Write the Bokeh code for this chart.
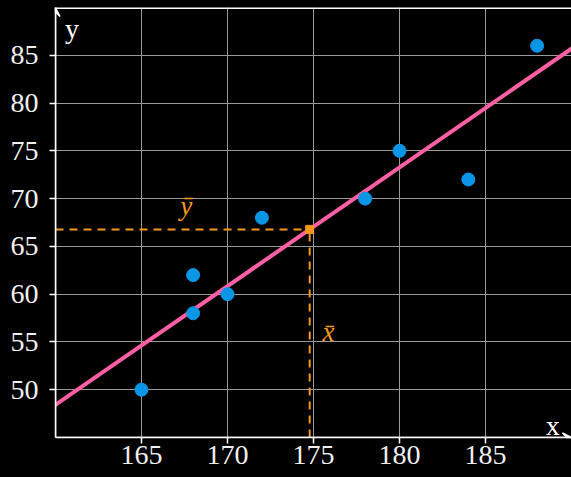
import numpy as np
from bokeh.plotting import figure
from bokeh.models import (Range1d, FixedTicker, Arrow, VeeHead, Span)
from bokeh.core.properties import value
from bokeh.embed import file_html
from bokeh.resources import INLINE

# data
heights = [165, 168, 168, 170, 172, 178, 180, 184, 188]
weights = [50, 58, 62, 60, 68, 70, 75, 72, 86]
x_ticks = [165, 170, 175, 180, 185]
y_ticks = [50, 55, 60, 65, 70, 75, 80, 85]

x_lo, x_hi = 160, 190
y_lo, y_hi = 45, 90

mean_x = float(np.mean(heights))
mean_y = float(np.mean(weights))
slope, intercept = np.polyfit(heights, weights, 1)

SERIF = "Liberation Serif"
ORANGE = "#f7971e"
PINK = "#ff5fa5"
BLUE = "#0a96e6"

p = figure(width=571, height=477, output_backend="svg", toolbar_location=None,
           x_range=Range1d(x_lo, x_hi), y_range=Range1d(y_lo, y_hi),
           min_border_left=55, min_border_right=0, min_border_top=7, min_border_bottom=40)
p.background_fill_color = "black"
p.border_fill_color = "black"
p.outline_line_color = None

for ax, ticks in ((p.xaxis, x_ticks), (p.yaxis, y_ticks)):
    ax.ticker = FixedTicker(ticks=ticks)
    ax.axis_line_color = "white"
    ax.axis_line_width = 1.5
    ax.major_tick_line_color = "white"
    ax.major_tick_line_width = 1.5
    ax.major_tick_out = 6
    ax.major_tick_in = 0
    ax.minor_tick_line_color = None
    ax.major_label_text_color = "#f0f0f0"
    ax.major_label_text_font = SERIF
    ax.major_label_text_font_size = "28px"
p.xaxis.major_label_standoff = 2
p.yaxis.major_label_standoff = 11

p.xgrid.ticker = FixedTicker(ticks=x_ticks)
p.ygrid.ticker = FixedTicker(ticks=y_ticks)
for g in (p.xgrid, p.ygrid):
    g.grid_line_color = "#9a9a9a"
    g.grid_line_width = 1

# top border line
p.add_layout(Span(location=y_hi, dimension="width", line_color="white", line_width=3))

# axis arrows
p.add_layout(Arrow(end=VeeHead(size=9, line_color="white", fill_color="white", line_width=1.5),
                   x_start=x_lo, y_start=y_lo, x_end=x_lo, y_end=y_hi,
                   line_color="white", line_width=1.5))
p.add_layout(Arrow(end=VeeHead(size=9, line_color="white", fill_color="white", line_width=1.5),
                   x_start=x_lo, y_start=y_lo, x_end=x_hi, y_end=y_lo,
                   line_color="white", line_width=1.5))

# regression line
p.line([x_lo - 1, x_hi + 1], [intercept + slope * (x_lo - 1), intercept + slope * (x_hi + 1)],
       line_color=PINK, line_width=4)

# mean dashed lines
p.line([x_lo, mean_x], [mean_y, mean_y], line_color=ORANGE, line_width=2, line_dash="8 6")
p.line([mean_x, mean_x], [y_lo, mean_y], line_color=ORANGE, line_width=2, line_dash="8 6")
p.scatter([mean_x], [mean_y], marker="square", size=8, color=ORANGE)

# points
p.scatter(heights, weights, size=13, color=BLUE, line_color=BLUE)

# labels
p.text(x=[167.6], y=[mean_y + 2.5], text=["y\u0304"], text_color=ORANGE,
       text_font=value(SERIF), text_font_style="italic", text_font_size="27px",
       text_align="center", text_baseline="alphabetic")
p.text(x=[mean_x + 1.1], y=[56.0], text=["x\u0304"], text_color=ORANGE,
       text_font=value(SERIF), text_font_style="italic", text_font_size="27px",
       text_align="center", text_baseline="alphabetic")
p.text(x=[160.55], y=[87.8], text=["y"], text_color="white",
       text_font=value(SERIF), text_font_size="28px",
       text_align="left", text_baseline="alphabetic")
p.text(x=[188.5], y=[46.3], text=["x"], text_color="white",
       text_font=value(SERIF), text_font_size="28px",
       text_align="left", text_baseline="alphabetic")

html = file_html(p, INLINE)
html = html.replace("<head>", "<head><style>html,body{background:black;}</style>", 1)
open("out.html", "w").write(html)
